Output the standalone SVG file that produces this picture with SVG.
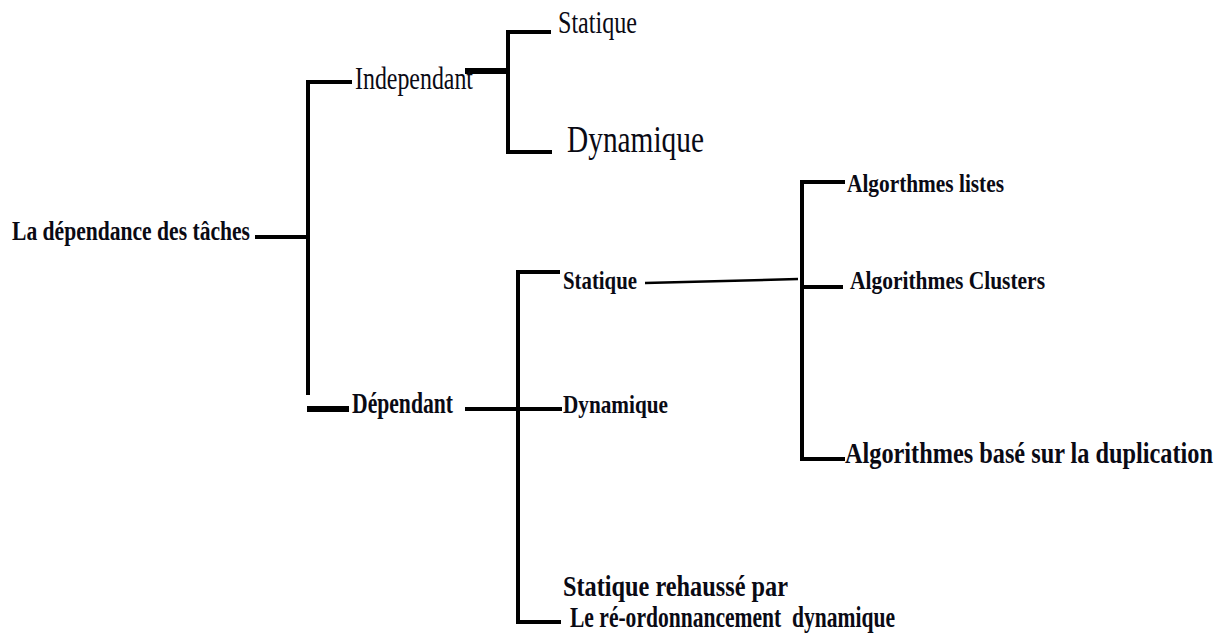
<svg xmlns="http://www.w3.org/2000/svg" width="1226" height="634" viewBox="0 0 1226 634">
<style>
text{font-family:"Liberation Serif","Times New Roman",serif;fill:#0a0a14}
.b{font-weight:bold}
.ln{fill:none;stroke:#000;stroke-width:4;stroke-linejoin:miter;stroke-linecap:butt}
.thick{stroke-width:6}
.thin{stroke-width:2.5}
</style>
<rect width="1226" height="634" fill="#fff"/>
<g id="connectors">
<path class="ln" d="M255,237 H308"/>
<path class="ln" d="M352,82 H308 V395"/>
<path class="ln thick" d="M307,409 H349"/>
<path class="ln thick" d="M465,71 H508"/>
<path class="ln" d="M551,32 H508 V152 H552"/>
<path class="ln" d="M465,409 H562"/>
<path class="ln" d="M560,272 H518 V622 H561"/>
<path class="ln thin" d="M645,283 L798,279"/>
<path class="ln" d="M845,182 H802 V459 H845"/>
<path class="ln" d="M802,287 H843"/>
</g>
<g id="root"><text class="b" x="12" y="240" font-size="27" textLength="238" lengthAdjust="spacingAndGlyphs">La dépendance des tâches</text></g>
<g id="independant"><text x="355" y="89" font-size="31" textLength="118" lengthAdjust="spacingAndGlyphs">Independant</text></g>
<g id="ind-statique"><text x="558" y="33" font-size="31" textLength="79" lengthAdjust="spacingAndGlyphs">Statique</text></g>
<g id="ind-dynamique"><text x="567" y="152" font-size="37" textLength="137" lengthAdjust="spacingAndGlyphs">Dynamique</text></g>
<g id="dependant"><text class="b" x="352" y="413" font-size="29" textLength="101" lengthAdjust="spacingAndGlyphs">Dépendant</text></g>
<g id="dep-statique"><text class="b" x="563" y="289" font-size="25" textLength="74" lengthAdjust="spacingAndGlyphs">Statique</text></g>
<g id="dep-dynamique"><text class="b" x="563" y="413" font-size="26" textLength="105" lengthAdjust="spacingAndGlyphs">Dynamique</text></g>
<g id="statique-rehausse"><text class="b" x="563" y="596" font-size="29" textLength="225" lengthAdjust="spacingAndGlyphs">Statique rehaussé par</text>
<text class="b" x="570" y="627" font-size="29" textLength="325" lengthAdjust="spacingAndGlyphs" xml:space="preserve">Le ré-ordonnancement  dynamique</text></g>
<g id="algo-listes"><text class="b" x="847" y="192" font-size="26" textLength="157" lengthAdjust="spacingAndGlyphs">Algorthmes listes</text></g>
<g id="algo-clusters"><text class="b" x="850" y="289" font-size="26" textLength="195" lengthAdjust="spacingAndGlyphs">Algorithmes Clusters</text></g>
<g id="algo-duplication"><text class="b" transform="translate(845,463) scale(1,1.19)" x="0" y="0" font-size="24.2" textLength="368" lengthAdjust="spacingAndGlyphs">Algorithmes basé sur la duplication</text></g>
</svg>
